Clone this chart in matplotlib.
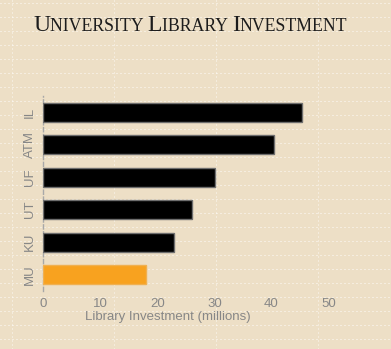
import numpy as np
import matplotlib
matplotlib.use("Agg")
from matplotlib import pyplot as plt

# data
schools = ["MU", "KU", "UT", "UF", "ATM", "IL"]
investment = [18.0, 22.9, 26.0, 30.2, 40.4, 45.4]
bar_colors = ["#F8A21F", "#000000", "#000000", "#000000", "#000000", "#000000"]
x_ticks = [0, 10, 20, 30, 40, 50]

W, H = 391, 349
fig = plt.figure(figsize=(W / 100, H / 100), dpi=100)

# textured paper background
base = np.array([237, 223, 198]) / 255.0
tex = np.ones((H, W, 3)) * base
yy, xx = np.mgrid[0:H, 0:W]
checker = ((xx // 2 + yy // 2) % 2 == 0)
tex[checker] = tex[checker] * 0.985 + 0.015
hline = (yy % 14 == 3) & (xx % 4 < 2)
tex[hline] = tex[hline] * 0.55 + 0.45
vline = (xx % 102 == 12) & (yy % 4 < 2)
tex[vline] = tex[vline] * 0.6 + 0.4
bg = fig.add_axes([0, 0, 1, 1])
bg.imshow(tex, aspect="auto", interpolation="nearest")
bg.axis("off")

ax = fig.add_axes([43 / W, 1 - 291 / H, (380 - 43) / W, (291 - 96) / H])
ax.patch.set_alpha(0)
ypos = np.arange(len(schools))
ax.barh(ypos, investment, height=0.58, color=bar_colors,
        edgecolor=["#f0b050"] + ["#6e6e6e"] * 5, linewidth=1.0, zorder=3)
ax.set_xlim(0, 59)
ax.set_ylim(-0.5, 5.5)
ax.set_yticks(ypos)
ax.set_yticklabels(schools, rotation=90, va="center", fontsize=9.5,
                   color="#878787", family="Liberation Sans")
ax.set_xticks(x_ticks)
ax.set_xticklabels([str(v) for v in x_ticks], fontsize=9.5, color="#878787",
                   family="Liberation Sans")
ax.tick_params(axis="both", length=0)
ax.tick_params(axis="x", pad=5)
ax.tick_params(axis="y", pad=5)
for s in ["top", "right", "bottom"]:
    ax.spines[s].set_visible(False)
ax.spines["left"].set_color("#a8a8a8")
ax.spines["left"].set_linestyle((0, (3, 2)))
ax.spines["left"].set_linewidth(1.0)
ax.set_xlabel("Library Investment (millions)", fontsize=9.5, color="#878787",
              family="Liberation Sans")
ax.xaxis.set_label_coords((168 - 43) / (380 - 43), -0.105)

# small caps title built from pieces
pieces = [("U", 17), ("NIVERSITY ", 12.8), ("L", 17), ("IBRARY ", 12.8),
          ("I", 17), ("NVESTMENT", 12.8)]
fig.canvas.draw()
renderer = fig.canvas.get_renderer()
x = 33 / W
for txt, size in pieces:
    t = fig.text(x, 1 - 31 / H, txt, fontsize=size, family="Liberation Serif",
                 color="#1c1c1c", va="baseline", ha="left")
    w = t.get_window_extent(renderer).width
    x += w / W

fig.savefig("out.png", dpi=100)
